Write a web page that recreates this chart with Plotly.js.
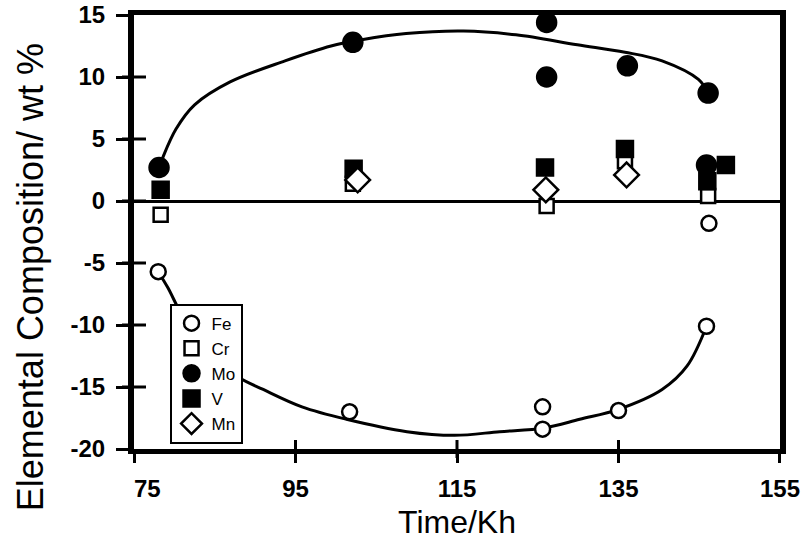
<!DOCTYPE html>
<html>
<head>
<meta charset="utf-8">
<script src="https://cdn.plot.ly/plotly-3.0.1.min.js"></script>
<style>
  html, body { margin: 0; padding: 0; background: #ffffff; }
  #chart { width: 805px; height: 540px; }
</style>
</head>
<body>
<div id="chart"></div>
<script>
// Elemental composition change (wt %) against exposure time (thousand hours)
const feTime = [78, 101.7, 125.6, 125.6, 135, 146.2, 145.9];
const feComp = [-5.7, -17.0, -16.6, -18.4, -16.9, -1.8, -10.1];

const crTime = [78.3, 102.1, 126.1, 135.8, 146.1];
const crComp = [-1.1, 1.4, -0.4, 3.2, 0.4];

const moTime = [78.1, 102.1, 126.1, 126.1, 136.1, 146.1, 145.9];
const moComp = [2.7, 12.8, 14.4, 10.0, 10.9, 8.7, 2.9];

const vTime = [78.3, 102.2, 125.9, 135.8, 146.0, 148.3];
const vComp = [0.9, 2.6, 2.7, 4.2, 1.6, 2.9];

const mnTime = [102.7, 126.0, 136.0];
const mnComp = [1.7, 0.9, 2.1];

// hand-fitted trend curves through the Mo and Fe data
const moCurveTime = [78.1, 78.5, 80.2, 82.5, 86.9, 93.7, 99.4, 103.2, 108.7, 115.8, 122.3, 129.9, 135.8, 140.4, 144.9, 146.1];
const moCurveComp = [2.7, 3.4, 5.8, 7.75, 9.6, 11.3, 12.5, 13.0, 13.5, 13.7, 13.4, 12.6, 12.0, 11.3, 9.8, 8.7];

const feCurveTime = [78.0, 79.2, 81.2, 84.5, 87.9, 91.0, 95.8, 101.3, 108.8, 114.7, 120.3, 125.8, 130.2, 135.0, 140.4, 143.5, 145.9];
const feCurveComp = [-5.7, -7.0, -9.5, -12.3, -14.2, -15.2, -16.6, -17.6, -18.6, -18.9, -18.6, -18.3, -17.6, -16.8, -15.2, -13.3, -10.1];

const xTicks = [75, 95, 115, 135, 155];
// the first label is padded so it sits inside the frame corner
const xTickText = ['\u00a0\u00a0\u00a0\u00a075', '95', '115', '135', '155'];
const yTicks = [-20, -15, -10, -5, 0, 5, 10, 15];

const FONT = 'Liberation Sans, Arial, Helvetica, sans-serif';
const INK = '#000000';

function curve(x, y) {
  return {
    x: x, y: y, type: 'scatter', mode: 'lines',
    line: { color: INK, width: 3, shape: 'spline', smoothing: 1 },
    showlegend: false, hoverinfo: 'skip'
  };
}

function points(name, x, y, symbol, size, fill) {
  return {
    x: x, y: y, name: name, type: 'scatter', mode: 'markers',
    cliponaxis: false,
    marker: { symbol: symbol, size: size, color: fill, line: { color: INK, width: 2.5 } }
  };
}

const traces = [
  curve(moCurveTime, moCurveComp),
  curve(feCurveTime, feCurveComp),
  points('Fe', feTime, feComp, 'circle', 15, '#ffffff'),
  points('Cr', crTime, crComp, 'square', 14, '#ffffff'),
  points('Mo', moTime, moComp, 'circle', 19, INK),
  points('V', vTime, vComp, 'square', 16, INK),
  points('Mn', mnTime, mnComp, 'diamond', 19, '#ffffff')
];

// tick marks that cross the axis lines
const shapes = [];
xTicks.slice(1, -1).forEach(function (v) {
  shapes.push({ type: 'line', xref: 'x', yref: 'paper', ysizemode: 'pixel', yanchor: 0,
    x0: v, x1: v, y0: -9, y1: 9, line: { color: INK, width: 3 } });
});
yTicks.slice(1, -1).forEach(function (v) {
  shapes.push({ type: 'line', yref: 'y', xref: 'paper', xsizemode: 'pixel', xanchor: 0,
    y0: v, y1: v, x0: -12, x1: 12, line: { color: INK, width: 3 } });
});

const layout = {
  width: 805, height: 540,
  margin: { l: 134, r: 25, t: 15, b: 91 },
  paper_bgcolor: '#ffffff', plot_bgcolor: '#ffffff',
  font: { family: FONT, color: INK },
  showlegend: true,
  legend: {
    x: 0.055, y: 0.335, xanchor: 'left', yanchor: 'top',
    bgcolor: '#ffffff', bordercolor: INK, borderwidth: 2,
    font: { family: FONT, size: 17, color: INK },
    itemwidth: 30, tracegroupgap: 0
  },
  xaxis: {
    range: [74.999, 155.001], tickvals: xTicks, ticktext: xTickText,
    ticks: 'outside', ticklen: 9, tickwidth: 3, tickcolor: INK,
    showline: true, linewidth: 5, linecolor: INK, mirror: true,
    showgrid: false, zeroline: false,
    tickfont: { family: FONT, size: 24, weight: 'bold' },
    ticklabelstandoff: 5, ticklabeloverflow: 'allow',
    title: { text: 'Time/Kh', font: { family: FONT, size: 32 }, standoff: 20 }
  },
  yaxis: {
    range: [-20, 15], tickvals: yTicks, ticktext: yTicks.map(String),
    ticks: 'outside', ticklen: 12, tickwidth: 3, tickcolor: INK,
    showline: true, linewidth: 6, linecolor: INK, mirror: true,
    showgrid: false,
    zeroline: true, zerolinewidth: 3, zerolinecolor: INK,
    tickfont: { family: FONT, size: 24, weight: 'bold' },
    ticklabelstandoff: 6, ticklabeloverflow: 'allow'
  },
  annotations: [{
    text: 'Elemental Composition/ wt %',
    textangle: -90, showarrow: false,
    xref: 'paper', yref: 'paper', x: -0.16, y: 0.395,
    xanchor: 'center', yanchor: 'middle',
    font: { family: FONT, size: 36, color: INK }
  }],
  shapes: shapes
};

Plotly.newPlot('chart', traces, layout, { staticPlot: true, displayModeBar: false });
</script>
</body>
</html>
